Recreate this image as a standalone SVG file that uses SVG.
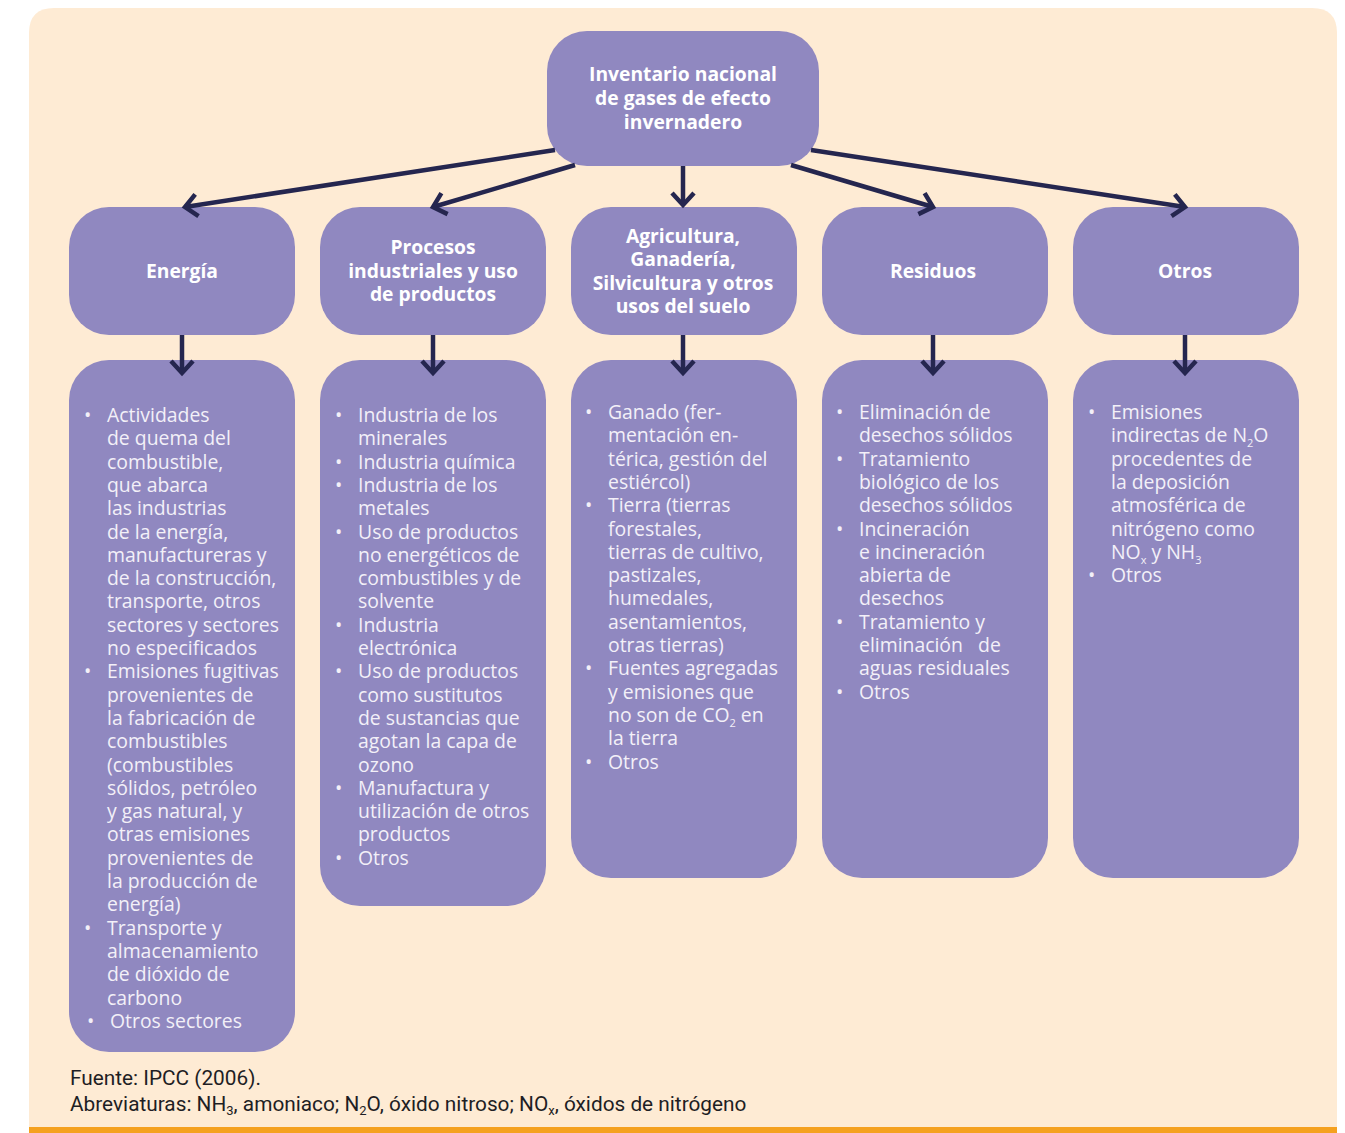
<svg xmlns="http://www.w3.org/2000/svg" width="1345" height="1133" viewBox="0 0 1345 1133">
<defs>
<style>
.panel{fill:#FEEBD4}
.bar{fill:#F5A11F}
.node{fill:#9088C0}
.hd{font-family:"Open Sans","Noto Sans",sans-serif;font-weight:700;font-size:19.3px;fill:#FFFFFF;text-anchor:middle}
.li{font-family:"Open Sans","Noto Sans",sans-serif;font-size:19.4px;fill:#F3F0F8}
.sub{font-size:11px}
.ft{font-family:Roboto,"Liberation Sans",sans-serif;font-size:20.8px;fill:#1E1E24}
.ftsub{font-size:13px}
.conn{stroke:#25264F;stroke-width:4.5;fill:none}
</style>
<marker id="chev" markerUnits="userSpaceOnUse" markerWidth="40" markerHeight="40" refX="0" refY="0" orient="auto" overflow="visible">
<path d="M-12,-11 L0,0 L-12,11" fill="none" stroke="#25264F" stroke-width="4.5" stroke-linejoin="miter"/>
</marker>
</defs>
<rect width="1345" height="1133" fill="#FFFFFF"/>
<path class="panel" d="M29,1133 L29,33 Q29,8 54,8 L1312,8 Q1337,8 1337,33 L1337,1133 Z"/>
<rect class="bar" x="29" y="1127" width="1308" height="6"/>

<g id="n-root">
<rect class="node" x="547" y="31" width="272" height="135" rx="40"/>
<text class="hd" x="683" y="81">Inventario nacional</text>
<text class="hd" x="683" y="105">de gases de efecto</text>
<text class="hd" x="683" y="129">invernadero</text>
</g>

<g id="n-energia">
<rect class="node" x="69" y="207" width="226" height="128" rx="40"/>
<text class="hd" x="182" y="278">Energía</text>
</g>
<g id="n-procesos">
<rect class="node" x="320" y="207" width="226" height="128" rx="40"/>
<text class="hd" x="433" y="254">Procesos</text>
<text class="hd" x="433" y="278">industriales y uso</text>
<text class="hd" x="433" y="301">de productos</text>
</g>
<g id="n-agri">
<rect class="node" x="571" y="207" width="226" height="128" rx="40"/>
<text class="hd" x="683" y="243">Agricultura,</text>
<text class="hd" x="683" y="266">Ganadería,</text>
<text class="hd" x="683" y="290">Silvicultura y otros</text>
<text class="hd" x="683" y="313">usos del suelo</text>
</g>
<g id="n-residuos">
<rect class="node" x="822" y="207" width="226" height="128" rx="40"/>
<text class="hd" x="933" y="278">Residuos</text>
</g>
<g id="n-otros">
<rect class="node" x="1073" y="207" width="226" height="128" rx="40"/>
<text class="hd" x="1185" y="278">Otros</text>
</g>

<g id="l-energia">
<rect class="node" x="69" y="360" width="226" height="692" rx="40"/>
<text class="li">
<tspan x="84" y="422">•</tspan>
<tspan x="107" y="422">Actividades</tspan>
<tspan x="107" y="445.3">de quema del</tspan>
<tspan x="107" y="468.6">combustible,</tspan>
<tspan x="107" y="491.9">que abarca</tspan>
<tspan x="107" y="515.2">las industrias</tspan>
<tspan x="107" y="538.5">de la energía,</tspan>
<tspan x="107" y="561.8">manufactureras y</tspan>
<tspan x="107" y="585.1">de la construcción,</tspan>
<tspan x="107" y="608.4">transporte, otros</tspan>
<tspan x="107" y="631.7">sectores y sectores</tspan>
<tspan x="107" y="655">no especificados</tspan>
<tspan x="84" y="678.3">•</tspan>
<tspan x="107" y="678.3">Emisiones fugitivas</tspan>
<tspan x="107" y="701.6">provenientes de</tspan>
<tspan x="107" y="724.9">la fabricación de</tspan>
<tspan x="107" y="748.2">combustibles</tspan>
<tspan x="107" y="771.5">(combustibles</tspan>
<tspan x="107" y="794.8">sólidos, petróleo</tspan>
<tspan x="107" y="818.1">y gas natural, y</tspan>
<tspan x="107" y="841.4">otras emisiones</tspan>
<tspan x="107" y="864.7">provenientes de</tspan>
<tspan x="107" y="888">la producción de</tspan>
<tspan x="107" y="911.3">energía)</tspan>
<tspan x="84" y="934.6">•</tspan>
<tspan x="107" y="934.6">Transporte y</tspan>
<tspan x="107" y="957.9">almacenamiento</tspan>
<tspan x="107" y="981.2">de dióxido de</tspan>
<tspan x="107" y="1004.5">carbono</tspan>
<tspan x="87" y="1027.8">•</tspan>
<tspan x="110" y="1027.8">Otros sectores</tspan>
</text>
</g>

<g id="l-procesos">
<rect class="node" x="320" y="360" width="226" height="546" rx="40"/>
<text class="li">
<tspan x="335" y="422">•</tspan>
<tspan x="358" y="422">Industria de los</tspan>
<tspan x="358" y="445.3">minerales</tspan>
<tspan x="335" y="468.6">•</tspan>
<tspan x="358" y="468.6">Industria química</tspan>
<tspan x="335" y="491.9">•</tspan>
<tspan x="358" y="491.9">Industria de los</tspan>
<tspan x="358" y="515.2">metales</tspan>
<tspan x="335" y="538.5">•</tspan>
<tspan x="358" y="538.5">Uso de productos</tspan>
<tspan x="358" y="561.8">no energéticos de</tspan>
<tspan x="358" y="585.1">combustibles y de</tspan>
<tspan x="358" y="608.4">solvente</tspan>
<tspan x="335" y="631.7">•</tspan>
<tspan x="358" y="631.7">Industria</tspan>
<tspan x="358" y="655">electrónica</tspan>
<tspan x="335" y="678.3">•</tspan>
<tspan x="358" y="678.3">Uso de productos</tspan>
<tspan x="358" y="701.6">como sustitutos</tspan>
<tspan x="358" y="724.9">de sustancias que</tspan>
<tspan x="358" y="748.2">agotan la capa de</tspan>
<tspan x="358" y="771.5">ozono</tspan>
<tspan x="335" y="794.8">•</tspan>
<tspan x="358" y="794.8">Manufactura y</tspan>
<tspan x="358" y="818.1">utilización de otros</tspan>
<tspan x="358" y="841.4">productos</tspan>
<tspan x="335" y="864.7">•</tspan>
<tspan x="358" y="864.7">Otros</tspan>
</text>
</g>

<g id="l-agri">
<rect class="node" x="571" y="360" width="226" height="518" rx="40"/>
<text class="li">
<tspan x="585" y="419">•</tspan>
<tspan x="608" y="419">Ganado (fer-</tspan>
<tspan x="608" y="442.3">mentación en-</tspan>
<tspan x="608" y="465.6">térica, gestión del</tspan>
<tspan x="608" y="488.9">estiércol)</tspan>
<tspan x="585" y="512.2">•</tspan>
<tspan x="608" y="512.2">Tierra (tierras</tspan>
<tspan x="608" y="535.5">forestales,</tspan>
<tspan x="608" y="558.8">tierras de cultivo,</tspan>
<tspan x="608" y="582.1">pastizales,</tspan>
<tspan x="608" y="605.4">humedales,</tspan>
<tspan x="608" y="628.7">asentamientos,</tspan>
<tspan x="608" y="652">otras tierras)</tspan>
<tspan x="585" y="675.3">•</tspan>
<tspan x="608" y="675.3">Fuentes agregadas</tspan>
<tspan x="608" y="698.6">y emisiones que</tspan>
<tspan x="608" y="721.9">no son de CO<tspan class="sub" dy="5">2</tspan><tspan dy="-5"> en</tspan></tspan>
<tspan x="608" y="745.2">la tierra</tspan>
<tspan x="585" y="768.5">•</tspan>
<tspan x="608" y="768.5">Otros</tspan>
</text>
</g>

<g id="l-residuos">
<rect class="node" x="822" y="360" width="226" height="518" rx="40"/>
<text class="li">
<tspan x="836" y="419">•</tspan>
<tspan x="859" y="419">Eliminación de</tspan>
<tspan x="859" y="442.3">desechos sólidos</tspan>
<tspan x="836" y="465.6">•</tspan>
<tspan x="859" y="465.6">Tratamiento</tspan>
<tspan x="859" y="488.9">biológico de los</tspan>
<tspan x="859" y="512.2">desechos sólidos</tspan>
<tspan x="836" y="535.5">•</tspan>
<tspan x="859" y="535.5">Incineración</tspan>
<tspan x="859" y="558.8">e incineración</tspan>
<tspan x="859" y="582.1">abierta de</tspan>
<tspan x="859" y="605.4">desechos</tspan>
<tspan x="836" y="628.7">•</tspan>
<tspan x="859" y="628.7">Tratamiento y</tspan>
<tspan x="859" y="652" xml:space="preserve">eliminación   de</tspan>
<tspan x="859" y="675.3">aguas residuales</tspan>
<tspan x="836" y="698.6">•</tspan>
<tspan x="859" y="698.6">Otros</tspan>
</text>
</g>

<g id="l-otros">
<rect class="node" x="1073" y="360" width="226" height="518" rx="40"/>
<text class="li">
<tspan x="1088" y="419">•</tspan>
<tspan x="1111" y="419">Emisiones</tspan>
<tspan x="1111" y="442.3">indirectas de N<tspan class="sub" dy="5">2</tspan><tspan dy="-5">O</tspan></tspan>
<tspan x="1111" y="465.6">procedentes de</tspan>
<tspan x="1111" y="488.9">la deposición</tspan>
<tspan x="1111" y="512.2">atmosférica de</tspan>
<tspan x="1111" y="535.5">nitrógeno como</tspan>
<tspan x="1111" y="558.8">NO<tspan class="sub" dy="5">x</tspan><tspan dy="-5"> y NH</tspan><tspan class="sub" dy="5">3</tspan></tspan>
<tspan x="1088" y="582.1">•</tspan>
<tspan x="1111" y="582.1">Otros</tspan>
</text>
</g>

<g id="connectors">
<line class="conn" x1="555" y1="150" x2="185" y2="207" marker-end="url(#chev)"/>
<line class="conn" x1="575" y1="165" x2="433" y2="207" marker-end="url(#chev)"/>
<line class="conn" x1="683" y1="166" x2="683" y2="205" marker-end="url(#chev)"/>
<line class="conn" x1="791" y1="165" x2="933" y2="207" marker-end="url(#chev)"/>
<line class="conn" x1="811" y1="150" x2="1185" y2="207" marker-end="url(#chev)"/>
<line class="conn" x1="182" y1="335" x2="182" y2="373" marker-end="url(#chev)"/>
<line class="conn" x1="433" y1="335" x2="433" y2="373" marker-end="url(#chev)"/>
<line class="conn" x1="683" y1="335" x2="683" y2="373" marker-end="url(#chev)"/>
<line class="conn" x1="933" y1="335" x2="933" y2="373" marker-end="url(#chev)"/>
<line class="conn" x1="1185" y1="335" x2="1185" y2="373" marker-end="url(#chev)"/>
</g>

<g id="footer">
<text class="ft" x="70" y="1085">Fuente: IPCC (2006).</text>
<text class="ft" x="70" y="1111">Abreviaturas: NH<tspan class="ftsub" dy="4">3</tspan><tspan dy="-4">, amoniaco; N</tspan><tspan class="ftsub" dy="4">2</tspan><tspan dy="-4">O, óxido nitroso; NO</tspan><tspan class="ftsub" dy="4">x</tspan><tspan dy="-4">, óxidos de nitrógeno</tspan></text>
</g>
</svg>
